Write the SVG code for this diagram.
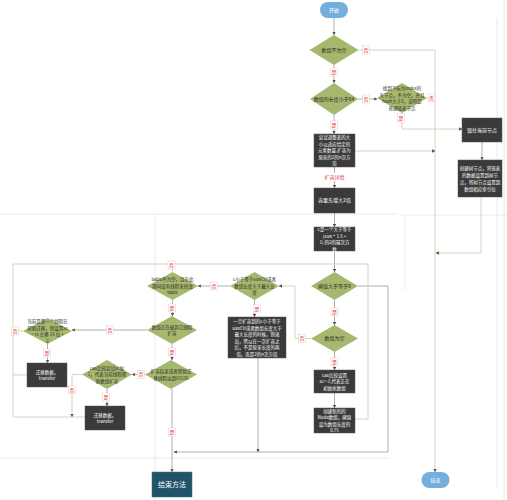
<svg xmlns="http://www.w3.org/2000/svg" width="507" height="500" viewBox="0 0 507 500">
<style>
.bg{fill:none;stroke:#e4e4e4;stroke-width:0.8}
.dm{fill:#a6b86d}
.bx{fill:#3a3a3a;stroke:#5a5a5a;stroke-width:0.5}
.pill{fill:#74aedd}
.tw{fill:#ffffff;font-family:"Noto Sans CJK SC","Noto Sans",sans-serif;font-size:4.5px;text-anchor:middle}
.td{fill:#2a2a2a;font-family:"Noto Sans CJK SC","Noto Sans",sans-serif;font-size:4.5px;text-anchor:middle}
.s{font-size:5px}
.c{fill:none;stroke:#9a9a9a;stroke-width:0.8}
.l{fill:none;stroke:#d6cdb4;stroke-width:0.9}
.lb rect{fill:#ffffff;stroke:#f0b4b4;stroke-width:0.4}
.lb text{fill:#e0343c;font-family:"Noto Sans CJK SC","Noto Sans",sans-serif;font-size:5px;text-anchor:middle}
</style>
<defs>
<marker id="a" viewBox="0 0 6 6" refX="5.5" refY="3" markerWidth="4" markerHeight="4" orient="auto">
<path d="M0,0 L6,3 L0,6 z" fill="#555"/>
</marker>
</defs>
<rect width="507" height="500" fill="#ffffff"/>
<g id="background">
<path class="bg" d="M0,214 H396 M401,215 H507 M155,214 V500 M0,458 H390 M497,18 V488 M504,0 V500 M405,215 V290"/>
</g>
<g id="connectors">
<path class="c" d="M334,18 V35" marker-end="url(#a)"/>
<path class="c" d="M334,65 V83" marker-end="url(#a)"/>
<path class="l" d="M358.5,50 H435 V472" marker-end="url(#a)"/>
<path class="c" d="M358,99 H377" marker-end="url(#a)"/>
<path class="l" d="M427,98 H435"/>
<path class="l" d="M402,113 V129 H462" marker-end="url(#a)"/>
<path class="c" d="M334,115 V134" marker-end="url(#a)"/>
<path class="l" d="M355,151 H435" marker-end="url(#a)"/>
<path class="c" d="M334.5,167 V188" marker-end="url(#a)"/>
<path class="c" d="M334.5,213 V227" marker-end="url(#a)"/>
<path class="c" d="M334.5,251 V272" marker-end="url(#a)"/>
<path class="c" d="M482,142 V160" marker-end="url(#a)"/>
<path class="l" d="M481,197 V253 H436" marker-end="url(#a)"/>
<path class="c" d="M358,286 H388 V452 H174" marker-end="url(#a)"/>
<path class="c" d="M334.5,300 V325" marker-end="url(#a)"/>
<path class="c" d="M334.5,352 V370" marker-end="url(#a)"/>
<path class="c" d="M334.5,393 V408" marker-end="url(#a)"/>
<path class="l" d="M355,419 H368 V264 H13 V417 H85"/>
<path class="l" d="M311,338.5 H295 V286 H279" marker-end="url(#a)"/>
<path class="c" d="M254.5,300 V317" marker-end="url(#a)"/>
<path class="c" d="M230,286 H198" marker-end="url(#a)"/>
<path class="c" d="M258,358 V452" marker-end="url(#a)"/>
<path class="l" d="M172.5,272 V264"/>
<path class="c" d="M172.5,300 V316" marker-end="url(#a)"/>
<path class="c" d="M147,330 H72" marker-end="url(#a)"/>
<path class="c" d="M172,344 V360" marker-end="url(#a)"/>
<path class="c" d="M172,389 V472" marker-end="url(#a)"/>
<path class="c" d="M145,374.5 H132" marker-end="url(#a)"/>
<path class="c" d="M107,389 V406" marker-end="url(#a)"/>
<path class="l" d="M82,374.5 H72 V417" marker-end="url(#a)"/>
<path class="l" d="M23,331 H13"/>
<path class="c" d="M47.5,344 V363" marker-end="url(#a)"/>
<path class="l" d="M27,375 H13"/>
</g>
<g id="labels" class="lb">
<rect x="362.5" y="46" width="7" height="8"/><text x="366" y="51.8">否</text>
<rect x="330.5" y="68" width="7" height="8"/><text x="334" y="73.8">是</text>
<rect x="362.5" y="95" width="7" height="8"/><text x="366" y="100.8">否</text>
<rect x="428" y="94" width="7" height="8"/><text x="431.5" y="99.8">否</text>
<rect x="397.5" y="114" width="7" height="8"/><text x="401" y="119.8">是</text>
<rect x="330.5" y="121" width="7" height="8"/><text x="334" y="126.8">是</text>
<rect x="323" y="173" width="23" height="8" style="stroke:none"/><text x="334.5" y="178.8">扩容详情</text>
<rect x="331" y="308" width="7" height="8"/><text x="334.5" y="313.8">是</text>
<rect x="331" y="358" width="7" height="8"/><text x="334.5" y="363.8">是</text>
<rect x="298.5" y="334.5" width="7" height="8"/><text x="302" y="340.3">否</text>
<rect x="253.5" y="305" width="7" height="8"/><text x="257" y="310.8">是</text>
<rect x="210.5" y="282" width="7" height="8"/><text x="214" y="287.8">否</text>
<rect x="168" y="261" width="7" height="8"/><text x="171.5" y="266.8">否</text>
<rect x="168.5" y="304" width="7" height="8"/><text x="172" y="309.8">是</text>
<rect x="106.5" y="326" width="7" height="8"/><text x="110" y="331.8">否</text>
<rect x="168.5" y="348" width="7" height="8"/><text x="172" y="353.8">是</text>
<rect x="137.5" y="370.5" width="7" height="8"/><text x="141" y="376.3">否</text>
<rect x="102.5" y="393" width="7" height="8"/><text x="106" y="398.8">是</text>
<rect x="68.5" y="386" width="7" height="8"/><text x="72" y="391.8">否</text>
<rect x="11.5" y="327" width="7" height="8"/><text x="15" y="332.8">否</text>
<rect x="43.5" y="349" width="7" height="8"/><text x="47" y="354.8">是</text>
<rect x="168.5" y="428" width="7" height="8"/><text x="172" y="433.8">是</text>
</g>
<g id="start"><rect class="pill" x="320" y="2" width="28" height="16" rx="8"/><text class="tw s" x="334" y="11.8">开始</text></g>
<g id="d-notnull"><polygon class="dm" points="334,35 358.5,50 334,65 309.5,50"/><text class="td s" x="334" y="51.8">数组不为空</text></g>
<g id="d-len64"><polygon class="dm" points="334,83 358,99 334,115 310,99"/><text class="td s" x="334" y="100.8">数组的长度小于64</text></g>
<g id="d-head"><polygon class="dm" points="402,83 427,98 402,113 377,98"/><text class="td" x="402" y="90">找到下标为index的</text><text class="td" x="402" y="96.5">头节点，不为空，并且</text><text class="td" x="402" y="103">hash大于0，说明是</text><text class="td" x="402" y="109.5">普通链表节点</text></g>
<g id="lock"><rect class="bx" x="462" y="118" width="40" height="24"/><text class="tw s" x="482" y="131.8">锁住当前节点</text></g>
<g id="tree"><rect class="bx" x="458" y="160" width="44" height="37"/><text class="tw" x="480" y="169.7">创建树节点，将链表</text><text class="tw" x="480" y="176.7">的数据设置到树节</text><text class="tw" x="480" y="183.7">点，将树节点设置到</text><text class="tw" x="480" y="190.7">数组相应索引位</text></g>
<g id="end"><rect class="pill" x="421.5" y="472" width="28" height="16" rx="8"/><text class="tw s" x="435.5" y="481.8">结束</text></g>
<g id="try"><rect class="bx" x="314" y="134" width="41" height="33"/><text class="tw" x="334.5" y="139.2">尝试调整表的大</text><text class="tw" x="334.5" y="145.7">小以适应给定的</text><text class="tw" x="334.5" y="152.2">元素数量,扩容为</text><text class="tw" x="334.5" y="158.7">原来的2的n次方</text><text class="tw" x="334.5" y="165.2">倍</text></g>
<g id="double"><rect class="bx" x="314" y="188" width="41" height="25"/><text class="tw s" x="334.5" y="202.3">容量先增大2倍</text></g>
<g id="csize"><rect class="bx" x="314" y="227" width="41" height="24"/><text class="tw" x="334.5" y="231">c是一个大于等于</text><text class="tw" x="334.5" y="237.5">(size * 1.5 +</text><text class="tw" x="334.5" y="244">1) 的2的幂次方</text><text class="tw" x="334.5" y="250.5">数</text></g>
<g id="d-sc"><polygon class="dm" points="334.5,272 358,286 334.5,300 311,286"/><text class="td s" x="334.5" y="287.8">阈值大于等于0</text></g>
<g id="d-empty"><polygon class="dm" points="334.5,325 358,338.5 334.5,352 311,338.5"/><text class="td s" x="334.5" y="340.3">数组为空</text></g>
<g id="cas1"><rect class="bx" x="314" y="370" width="41" height="23"/><text class="tw" x="334.5" y="376.7">cas比较设置</text><text class="tw" x="334.5" y="383.2">sc=-1,代表正在</text><text class="tw" x="334.5" y="389.7">初始化数组</text></g>
<g id="create"><rect class="bx" x="314" y="408" width="41" height="25"/><text class="tw" x="334.5" y="412.5">创建新的的</text><text class="tw" x="334.5" y="419">Node数组，阈值</text><text class="tw" x="334.5" y="425.5">设为数组长度的</text><text class="tw" x="334.5" y="432">0.75</text></g>
<g id="d-cle"><polygon class="dm" points="254.5,272 279,286 254.5,300 230,286"/><text class="td" x="254.5" y="281.2">c小于等于sizeCtl或者</text><text class="td" x="254.5" y="287.7">数组长度大于最大长</text><text class="td" x="254.5" y="294.2">度</text></g>
<g id="exit"><rect class="bx" x="228" y="317" width="58" height="41"/><text class="tw" x="257" y="323">一旦扩容到的c小于等于</text><text class="tw" x="257" y="329.5">sizeCtl或者数组长度大于</text><text class="tw" x="257" y="336">最大长度的时候，则退</text><text class="tw" x="257" y="342.5">出，所以在一次扩容之</text><text class="tw" x="257" y="349">后，不是原来长度的两</text><text class="tw" x="257" y="355.5">倍，而是2的n次方倍</text></g>
<g id="d-table"><polygon class="dm" points="172.5,272 198,286 172.5,300 147,286"/><text class="td" x="172.5" y="281.2">table不为空，且在此</text><text class="td" x="172.5" y="287.7">期间没有线程来修改</text><text class="td" x="172.5" y="294.2">table</text></g>
<g id="d-resizing"><polygon class="dm" points="172,316 197,330 172,344 147,330"/><text class="td" x="172" y="328.5">数组正在被其它线程</text><text class="td" x="172" y="335">扩容</text></g>
<g id="d-done"><polygon class="dm" points="171,360 197,374.5 171,389 145,374.5"/><text class="td" x="171" y="373">扩容结束或者帮助迁</text><text class="td" x="171" y="379.5">移线程达到65535</text></g>
<g id="d-cas2"><polygon class="dm" points="107,360 132,374.5 107,389 82,374.5"/><text class="td" x="107" y="369.7">cas比较尝试sc加</text><text class="td" x="107" y="376.2">1，代表当前线程帮</text><text class="td" x="107" y="382.7">助数组扩容</text></g>
<g id="d-first"><polygon class="dm" points="47.5,318 72,331 47.5,344 23,331"/><text class="td" x="47.5" y="323">当前是第一个线程在</text><text class="td" x="47.5" y="329.5">帮助迁移，则设置sc</text><text class="td" x="47.5" y="336">= rs 左移 16 位 +</text><text class="td" x="47.5" y="342.5">2</text></g>
<g id="transfer1"><rect class="bx" x="27" y="363" width="40" height="24"/><text class="tw" x="47" y="373.5">迁移数据，</text><text class="tw" x="47" y="380">transfer</text></g>
<g id="transfer2"><rect class="bx" x="85" y="406" width="40" height="24"/><text class="tw" x="105" y="416.5">迁移数据，</text><text class="tw" x="105" y="423">transfer</text></g>
<g id="endmethod"><rect x="152" y="472" width="40" height="25" fill="#1f5468" stroke="#3b7185" stroke-width="0.5"/><text class="tw" x="172" y="487" style="font-size:7px">结束方法</text></g>
</svg>
